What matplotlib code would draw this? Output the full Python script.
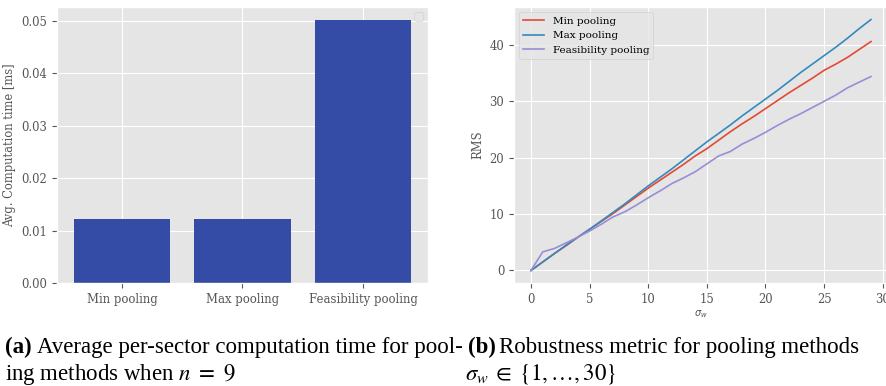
import numpy as np
import matplotlib
matplotlib.use('Agg')
import matplotlib.pyplot as plt

plt.style.use('ggplot')
plt.rcParams['font.family'] = 'DejaVu Serif'

# Data
methods = ['Min pooling', 'Max pooling', 'Feasibility pooling']
comp_time = [0.0122, 0.0122, 0.0501]

sigma_w = list(range(30))
rms_min = [0, 1.5, 3.0, 4.4, 5.9, 7.3, 8.7, 10.1, 11.6, 13.1, 14.6, 16.0, 17.4, 18.8, 20.3,
           21.6, 23.1, 24.6, 26.0, 27.3, 28.7, 30.1, 31.5, 32.8, 34.1, 35.5, 36.6, 37.8, 39.2, 40.6]
rms_max = [0, 1.5, 3.0, 4.5, 5.9, 7.3, 8.8, 10.3, 11.8, 13.4, 15.0, 16.5, 18.0, 19.6, 21.2,
           22.8, 24.3, 25.8, 27.4, 28.9, 30.4, 31.9, 33.5, 35.1, 36.6, 38.1, 39.6, 41.2, 42.9, 44.5]
rms_feas = [0, 3.3, 3.9, 4.9, 5.9, 7.0, 8.2, 9.5, 10.4, 11.6, 12.9, 14.1, 15.4, 16.4, 17.5,
            18.9, 20.3, 21.1, 22.4, 23.4, 24.5, 25.7, 26.8, 27.8, 28.9, 30.0, 31.1, 32.4, 33.4, 34.4]

fig = plt.figure(figsize=(8.87, 3.86), dpi=100)
W, H = 887.0, 386.0

# (a) bar chart
ax1 = fig.add_axes([57 / W, 1 - 283 / H, (428 - 57) / W, (283 - 7) / H])
ax1.bar(methods, comp_time, width=0.8, color='#344ca6')
ax1.set_ylabel('Avg. Computation time [ms]', fontsize=8.3)
ax1.tick_params(labelsize=8.4)
ax1.set_yticks([0, 0.01, 0.02, 0.03, 0.04, 0.05])
ax1.set_yticklabels(['0.00', '0.01', '0.02', '0.03', '0.04', '0.05'])
ax1.legend(loc='upper right', fontsize=7.5)

# (b) robustness
ax2 = fig.add_axes([514 / W, 1 - 283 / H, (888 - 514) / W, (283 - 7) / H])
ax2.plot(sigma_w, rms_min, color='#E24A33', lw=1.2, label='Min pooling')
ax2.plot(sigma_w, rms_max, color='#348ABD', lw=1.2, label='Max pooling')
ax2.plot(sigma_w, rms_feas, color='#988ED5', lw=1.2, label='Feasibility pooling')
ax2.set_ylabel('RMS', fontsize=8.3)
ax2.set_xlabel(r'$\sigma_w$', fontsize=7, labelpad=2)
ax2.tick_params(labelsize=8.4)
ax2.legend(loc='upper left', fontsize=7.5)

# captions
cap = dict(family='Liberation Serif', fontsize=16.5, color='black', math_fontfamily='stix')
y1, y2 = 1 - 353 / H, 1 - 380 / H
fig.text(5 / W, y1, '(a)', fontweight='bold', **cap)
fig.text(37 / W, y1, 'Average per-sector computation time for pool-', **cap)
fig.text(5 / W, y2, r'ing methods when $n\ =\ 9$', **cap)
fig.text(468 / W, y1, '(b)', fontweight='bold', **cap)
fig.text(499 / W, y1, 'Robustness metric for pooling methods', **cap)
fig.text(465 / W, y2, r'$\sigma_w \;\in\; \{1, \ldots, 30\}$', **cap)

fig.savefig('out.png', dpi=100)
